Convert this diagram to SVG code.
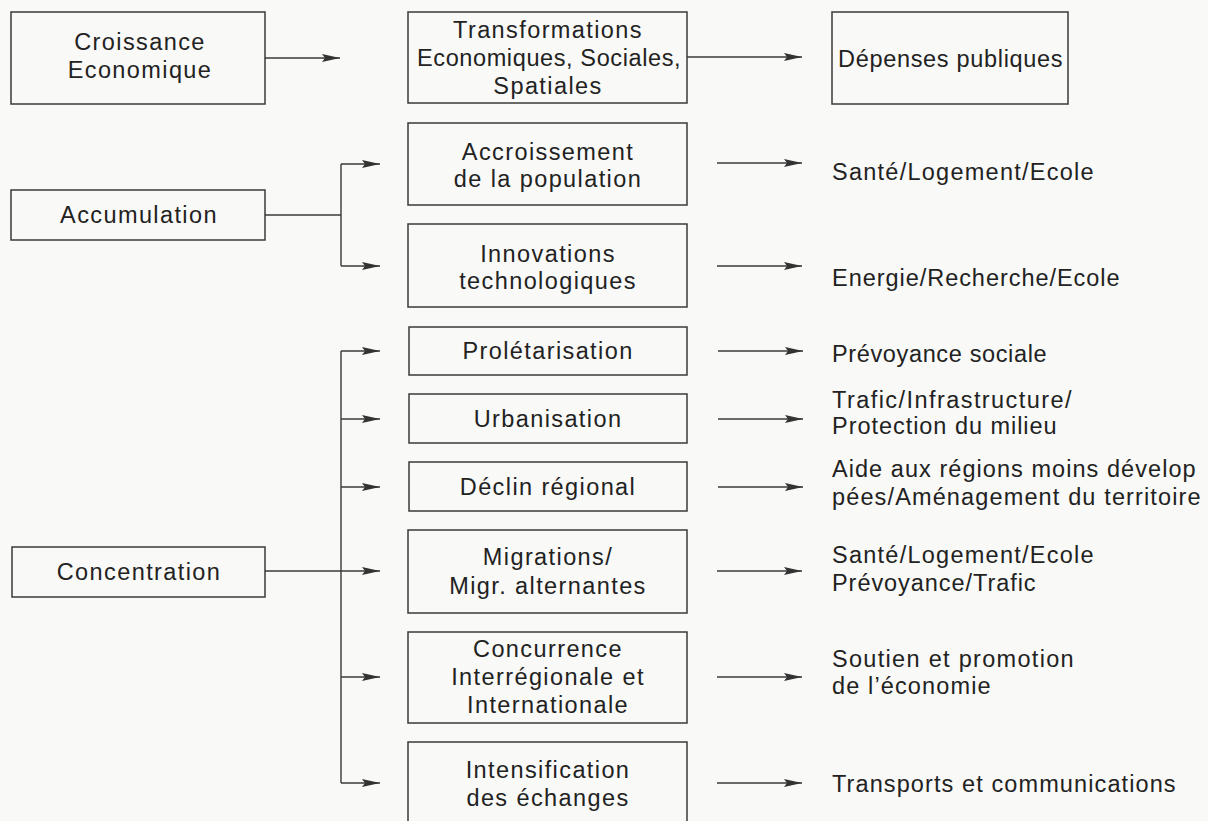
<svg xmlns="http://www.w3.org/2000/svg" width="1208" height="821" viewBox="0 0 1208 821">
<defs>
<marker id="ah" markerUnits="userSpaceOnUse" markerWidth="20" markerHeight="10" refX="18" refY="4" orient="auto">
<path d="M0,0 L18,4 L0,8 L3,4 z" fill="#333"/>
</marker>
<style>
.box{fill:none;stroke:#3a3a3a;stroke-width:1.5}
.t{font-family:"Liberation Sans",Arial,sans-serif;font-size:23.5px;letter-spacing:1.4px;fill:#222}
.c{text-anchor:middle}
.ln{fill:none;stroke:#3a3a3a;stroke-width:1.4}
.ar{fill:none;stroke:#3a3a3a;stroke-width:1.4;marker-end:url(#ah)}
</style>
</defs>
<rect x="0" y="0" width="1208" height="821" fill="#f9f9f7"/>

<g id="croissance">
<rect class="box" x="11" y="12" width="254" height="92"/>
<text class="t c" x="140" y="50">Croissance</text>
<text class="t c" x="140" y="78">Economique</text>
</g>
<g id="transformations">
<rect class="box" x="408" y="12" width="279" height="91"/>
<text class="t c" x="548" y="38">Transformations</text>
<text class="t" x="417" y="66" textLength="265" lengthAdjust="spacing">Economiques, Sociales,</text>
<text class="t c" x="548" y="94">Spatiales</text>
</g>
<g id="depenses">
<rect class="box" x="832" y="12" width="236" height="92"/>
<text class="t" x="838" y="67" textLength="226" lengthAdjust="spacing">Dépenses publiques</text>
</g>

<g id="accumulation">
<rect class="box" x="11" y="190" width="254" height="50"/>
<text class="t c" x="139" y="223">Accumulation</text>
</g>
<g id="accroissement">
<rect class="box" x="408" y="123" width="279" height="82"/>
<text class="t c" x="548" y="160">Accroissement</text>
<text class="t c" x="548" y="187">de la population</text>
</g>
<g id="innovations">
<rect class="box" x="408" y="224" width="279" height="83"/>
<text class="t c" x="548" y="262">Innovations</text>
<text class="t c" x="548" y="289">technologiques</text>
</g>

<g id="concentration">
<rect class="box" x="12" y="547" width="253" height="50"/>
<text class="t c" x="139" y="580">Concentration</text>
</g>
<g id="proletarisation">
<rect class="box" x="409" y="327" width="278" height="48"/>
<text class="t c" x="548" y="359">Prolétarisation</text>
</g>
<g id="urbanisation">
<rect class="box" x="409" y="394" width="278" height="49"/>
<text class="t c" x="548" y="427">Urbanisation</text>
</g>
<g id="declin">
<rect class="box" x="409" y="462" width="278" height="49"/>
<text class="t c" x="548" y="495">Déclin régional</text>
</g>
<g id="migrations">
<rect class="box" x="408" y="530" width="279" height="83"/>
<text class="t c" x="548" y="565">Migrations/</text>
<text class="t c" x="548" y="594">Migr. alternantes</text>
</g>
<g id="concurrence">
<rect class="box" x="408" y="632" width="279" height="91"/>
<text class="t c" x="548" y="657">Concurrence</text>
<text class="t c" x="548" y="685">Interrégionale et</text>
<text class="t c" x="548" y="713">Internationale</text>
</g>
<g id="intensification">
<rect class="box" x="408" y="742" width="279" height="80"/>
<text class="t c" x="548" y="778">Intensification</text>
<text class="t c" x="548" y="806">des échanges</text>
</g>

<g id="labels">
<text class="t" x="832" y="180" textLength="263" lengthAdjust="spacing">Santé/Logement/Ecole</text>
<text class="t" x="832" y="286" textLength="289" lengthAdjust="spacing">Energie/Recherche/Ecole</text>
<text class="t" x="832" y="362" textLength="216" lengthAdjust="spacing">Prévoyance sociale</text>
<text class="t" x="832" y="408" textLength="241" lengthAdjust="spacing">Trafic/Infrastructure/</text>
<text class="t" x="832" y="434" textLength="226" lengthAdjust="spacing">Protection du milieu</text>
<text class="t" x="832" y="477" textLength="365" lengthAdjust="spacing">Aide aux régions moins dévelop</text>
<text class="t" x="832" y="505" textLength="370" lengthAdjust="spacing">pées/Aménagement du territoire</text>
<text class="t" x="832" y="563" textLength="263" lengthAdjust="spacing">Santé/Logement/Ecole</text>
<text class="t" x="832" y="591" textLength="205" lengthAdjust="spacing">Prévoyance/Trafic</text>
<text class="t" x="832" y="667" textLength="243" lengthAdjust="spacing">Soutien et promotion</text>
<text class="t" x="832" y="694" textLength="160" lengthAdjust="spacing">de l’économie</text>
<text class="t" x="832" y="792" textLength="345" lengthAdjust="spacing">Transports et communications</text>
</g>

<g id="connectors">
<line class="ar" x1="265" y1="58" x2="340" y2="58"/>
<line class="ar" x1="687" y1="57" x2="802" y2="57"/>
<line class="ln" x1="265" y1="215" x2="341" y2="215"/>
<line class="ln" x1="341" y1="164" x2="341" y2="266"/>
<line class="ar" x1="341" y1="164" x2="380" y2="164"/>
<line class="ar" x1="341" y1="266" x2="380" y2="266"/>
<line class="ar" x1="717" y1="163" x2="802" y2="163"/>
<line class="ar" x1="717" y1="266" x2="802" y2="266"/>
<line class="ln" x1="341" y1="351" x2="341" y2="783"/>
<line class="ar" x1="341" y1="351" x2="380" y2="351"/>
<line class="ar" x1="341" y1="419" x2="380" y2="419"/>
<line class="ar" x1="341" y1="487" x2="380" y2="487"/>
<line class="ar" x1="265" y1="571" x2="380" y2="571"/>
<line class="ar" x1="341" y1="677" x2="380" y2="677"/>
<line class="ar" x1="341" y1="783" x2="380" y2="783"/>
<line class="ar" x1="718" y1="351" x2="803" y2="351"/>
<line class="ar" x1="718" y1="419" x2="803" y2="419"/>
<line class="ar" x1="718" y1="487" x2="803" y2="487"/>
<line class="ar" x1="717" y1="571" x2="802" y2="571"/>
<line class="ar" x1="717" y1="677" x2="802" y2="677"/>
<line class="ar" x1="717" y1="783" x2="802" y2="783"/>
</g>
</svg>
